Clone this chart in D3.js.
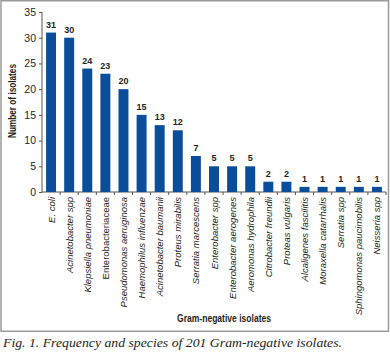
<!DOCTYPE html>
<html>
<head>
<meta charset="utf-8">
<script src="https://cdn.jsdelivr.net/npm/d3@7"></script>
<style>
  body { margin: 0; background: #fff; }
  svg { display: block; }
</style>
</head>
<body>
<svg id="chart" width="390" height="353"></svg>
<script>
// Data
const categories = [
  'E. coli', 'Acinetobacter spp', 'Klepsiella pneumoniae', 'Enterobacteriaceae',
  'Pseudomonas aeruginosa', 'Haemophilus influenzae', 'Acinetobacter baumanii',
  'Proteus mirabilis', 'Serratia marcescens', 'Enterobacter spp', 'Enterobacter aerogenes',
  'Aeromonas hydrophila', 'Citrobacter freundii', 'Proteas vulgaris', 'Alcaligenes fascilitis',
  'Moraxella catarrhalis', 'Serratia spp', 'Sphingomonas paucimobilis', 'Neisseria spp'
];
const counts = [31, 30, 24, 23, 20, 15, 13, 12, 7, 5, 5, 5, 2, 2, 1, 1, 1, 1, 1];
const yTicks = [0, 5, 10, 15, 20, 25, 30, 35];
const uprightLabels = ['Enterobacteriaceae'];

const svg = d3.select('#chart');
const textColor = '#231f20';
const barColor = '#0a4e9b';
const sans = "'Liberation Sans', Arial, sans-serif";

// Frame
svg.append('rect')
  .attr('x', 1).attr('y', 0.75)
  .attr('width', 387.5).attr('height', 330.5)
  .attr('fill', 'none')
  .attr('stroke', '#9a9a9a')
  .attr('stroke-width', 1.5);

// Scales
const x = d3.scaleBand()
  .domain(categories)
  .range([42, 386])
  .paddingInner(0.45)
  .paddingOuter(0.225);

const y = d3.scaleLinear()
  .domain([0, 35])
  .range([192, 12]);

// Y axis
const yAxis = svg.append('g')
  .attr('transform', 'translate(42,0)')
  .call(d3.axisLeft(y).tickValues(yTicks).tickSize(3).tickPadding(3));
yAxis.select('.domain').attr('stroke', '#555').attr('d', `M0,${y(35)}V${y(0)}`);
yAxis.selectAll('.tick line').attr('stroke', '#555');
yAxis.selectAll('text')
  .style('font-family', sans)
  .style('font-size', '10.5px')
  .attr('fill', textColor);

// X axis line and separators
const step = x.step();
svg.append('line')
  .attr('x1', 42).attr('x2', 386)
  .attr('y1', y(0)).attr('y2', y(0))
  .attr('stroke', '#555');
svg.selectAll('.sep')
  .data(categories)
  .join('line')
  .attr('class', 'sep')
  .attr('x1', d => x(d) + x.bandwidth() + (step - x.bandwidth()) / 2)
  .attr('x2', d => x(d) + x.bandwidth() + (step - x.bandwidth()) / 2)
  .attr('y1', y(0)).attr('y2', y(0) + 3)
  .attr('stroke', '#555');

// Bars
svg.selectAll('.bar')
  .data(categories)
  .join('rect')
  .attr('class', 'bar')
  .attr('x', d => x(d))
  .attr('y', (d, i) => y(counts[i]))
  .attr('width', x.bandwidth())
  .attr('height', (d, i) => y(0) - y(counts[i]))
  .attr('fill', barColor);

// Value labels
svg.selectAll('.val')
  .data(categories)
  .join('text')
  .attr('class', 'val')
  .attr('x', d => x(d) + x.bandwidth() / 2)
  .attr('y', (d, i) => y(counts[i]) - 5)
  .attr('text-anchor', 'middle')
  .style('font-family', sans)
  .style('font-size', '9px')
  .style('font-weight', 'bold')
  .attr('fill', textColor)
  .text((d, i) => counts[i]);

// Category labels
svg.selectAll('.cat')
  .data(categories)
  .join('text')
  .attr('class', 'cat')
  .attr('transform', d => `translate(${x(d) + x.bandwidth() / 2 + 3.5},${y(0) + 5}) rotate(-90)`)
  .attr('text-anchor', 'end')
  .style('font-family', sans)
  .style('font-size', '9.5px')
  .style('font-style', d => uprightLabels.includes(d) ? 'normal' : 'italic')
  .attr('fill', textColor)
  .text(d => d);

// Axis titles
svg.append('text')
  .attr('transform', 'translate(16,101) rotate(-90)')
  .attr('text-anchor', 'middle')
  .attr('textLength', 74)
  .attr('lengthAdjust', 'spacingAndGlyphs')
  .style('font-family', sans)
  .style('font-size', '10px')
  .style('font-weight', 'bold')
  .attr('fill', textColor)
  .text('Number of isolates');

svg.append('text')
  .attr('x', 224)
  .attr('y', 322)
  .attr('text-anchor', 'middle')
  .attr('textLength', 94)
  .attr('lengthAdjust', 'spacingAndGlyphs')
  .style('font-family', sans)
  .style('font-size', '10px')
  .style('font-weight', 'bold')
  .attr('fill', textColor)
  .text('Gram-negative isolates');

// Caption
svg.append('text')
  .attr('x', 3)
  .attr('y', 347)
  .attr('textLength', 339)
  .attr('lengthAdjust', 'spacingAndGlyphs')
  .style('font-family', "'Liberation Serif', 'Times New Roman', serif")
  .style('font-size', '13.5px')
  .style('font-style', 'italic')
  .attr('fill', textColor)
  .text('Fig. 1. Frequency and species of 201 Gram-negative isolates.');
</script>
</body>
</html>
